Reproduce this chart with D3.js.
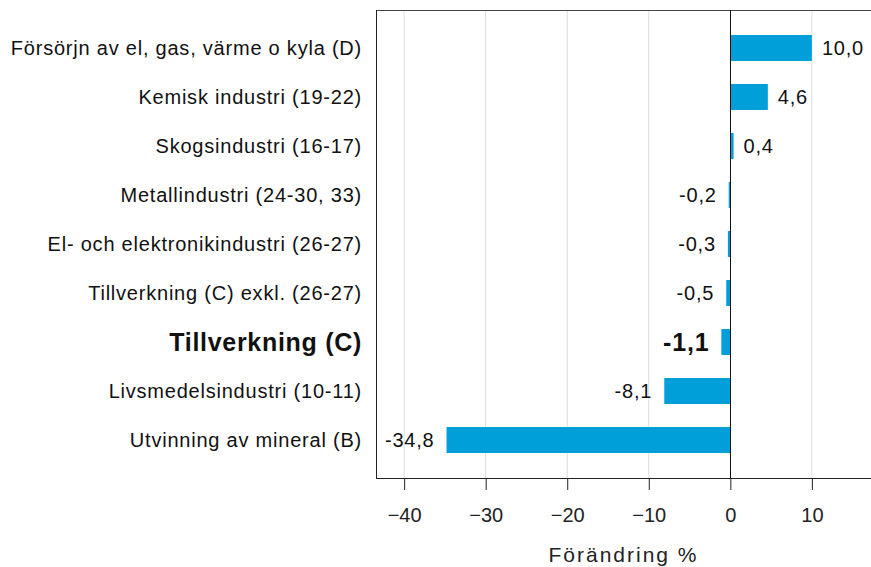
<!DOCTYPE html>
<html>
<head>
<meta charset="utf-8">
<script src="https://cdn.jsdelivr.net/npm/d3@7"></script>
<style>
  body { margin: 0; background: #fff; }
  svg { display: block; font-family: "Liberation Sans", Arial, sans-serif; }
</style>
</head>
<body>
<div id="chart"></div>
<script>
// Data
const categories = [
  'Försörjn av el, gas, värme o kyla (D)',
  'Kemisk industri (19-22)',
  'Skogsindustri (16-17)',
  'Metallindustri (24-30, 33)',
  'El- och elektronikindustri (26-27)',
  'Tillverkning (C) exkl. (26-27)',
  'Tillverkning (C)',
  'Livsmedelsindustri (10-11)',
  'Utvinning av mineral (B)'
];
const values = [10.0, 4.6, 0.4, -0.2, -0.3, -0.5, -1.1, -8.1, -34.8];
const highlighted = 'Tillverkning (C)';
const xTicks = [-40, -30, -20, -10, 0, 10];
const axisTitle = 'Förändring %';

const width = 871;
const height = 567;
const plot = { left: 376, right: 871, top: 10, bottom: 478 };

const svg = d3.select('#chart')
  .append('svg')
  .attr('width', width)
  .attr('height', height);

// Scales
const xScale = d3.scaleLinear()
  .domain([-43.45, 17.25])
  .range([plot.left, plot.right]);

const yScale = d3.scaleBand()
  .domain(categories)
  .range([plot.top, plot.bottom])
  .paddingInner(0.47)
  .paddingOuter(0.51);

// Swedish style numbers for value labels
const sv = d3.formatLocale({ decimal: ',', thousands: ' ', grouping: [3], currency: ['', ' kr'], minus: '-' });
const fmt = sv.format('.1f');

// Grid lines
svg.append('g')
  .selectAll('line')
  .data(xTicks.filter(d => d !== 0))
  .enter()
  .append('line')
  .attr('x1', d => xScale(d))
  .attr('x2', d => xScale(d))
  .attr('y1', plot.top)
  .attr('y2', plot.bottom)
  .attr('stroke', '#dcdcdc')
  .attr('stroke-width', 1);

// Bars
svg.append('g')
  .selectAll('rect')
  .data(values)
  .enter()
  .append('rect')
  .attr('x', d => xScale(Math.min(0, d)))
  .attr('y', (d, i) => yScale(categories[i]))
  .attr('width', d => Math.abs(xScale(d) - xScale(0)))
  .attr('height', yScale.bandwidth())
  .attr('fill', '#009fda');

// Frame: left, top and zero line
svg.append('line')
  .attr('x1', plot.left).attr('x2', plot.right)
  .attr('y1', plot.top + 0.5).attr('y2', plot.top + 0.5)
  .attr('stroke', '#444');
svg.append('line')
  .attr('x1', plot.left + 0.5).attr('x2', plot.left + 0.5)
  .attr('y1', plot.top).attr('y2', plot.bottom)
  .attr('stroke', '#222');
svg.append('line')
  .attr('x1', Math.round(xScale(0)) + 0.5).attr('x2', Math.round(xScale(0)) + 0.5)
  .attr('y1', plot.top).attr('y2', plot.bottom)
  .attr('stroke', '#111');

// X axis
const xAxis = d3.axisBottom(xScale)
  .tickValues(xTicks)
  .tickSize(12)
  .tickPadding(18);

const gx = svg.append('g')
  .attr('transform', `translate(0,${plot.bottom})`)
  .call(xAxis);
gx.select('.domain')
  .attr('d', `M${plot.left},0.5H${plot.right}`)
  .attr('stroke', '#222');
gx.selectAll('.tick line').attr('stroke', '#222');
gx.selectAll('.tick text')
  .style('font-size', '20px')
  .style('font-family', '"Liberation Sans", Arial, sans-serif')
  .attr('fill', '#222');

// Category labels
svg.append('g')
  .selectAll('text')
  .data(categories)
  .enter()
  .append('text')
  .attr('x', 362)
  .attr('y', d => yScale(d) + yScale.bandwidth() / 2)
  .attr('dy', '0.36em')
  .attr('text-anchor', 'end')
  .style('font-size', d => d === highlighted ? '25px' : '20px')
  .style('font-weight', d => d === highlighted ? 'bold' : 'normal')
  .style('letter-spacing', d => d === highlighted ? '0.7px' : '0.78px')
  .attr('fill', '#111')
  .text(d => d);

// Value labels
svg.append('g')
  .selectAll('text')
  .data(values)
  .enter()
  .append('text')
  .attr('x', d => d >= 0 ? xScale(d) + 10 : xScale(d) - 12)
  .attr('y', (d, i) => yScale(categories[i]) + yScale.bandwidth() / 2)
  .attr('dy', '0.36em')
  .attr('text-anchor', d => d >= 0 ? 'start' : 'end')
  .style('font-size', (d, i) => categories[i] === highlighted ? '25px' : '20px')
  .style('font-weight', (d, i) => categories[i] === highlighted ? 'bold' : 'normal')
  .style('letter-spacing', '0.8px')
  .attr('fill', '#111')
  .text(d => fmt(d));

// Axis title
svg.append('text')
  .attr('x', (plot.left + plot.right) / 2)
  .attr('y', 562)
  .attr('text-anchor', 'middle')
  .style('font-size', '21px')
  .style('letter-spacing', '2px')
  .attr('fill', '#222')
  .text(axisTitle);
</script>
</body>
</html>
